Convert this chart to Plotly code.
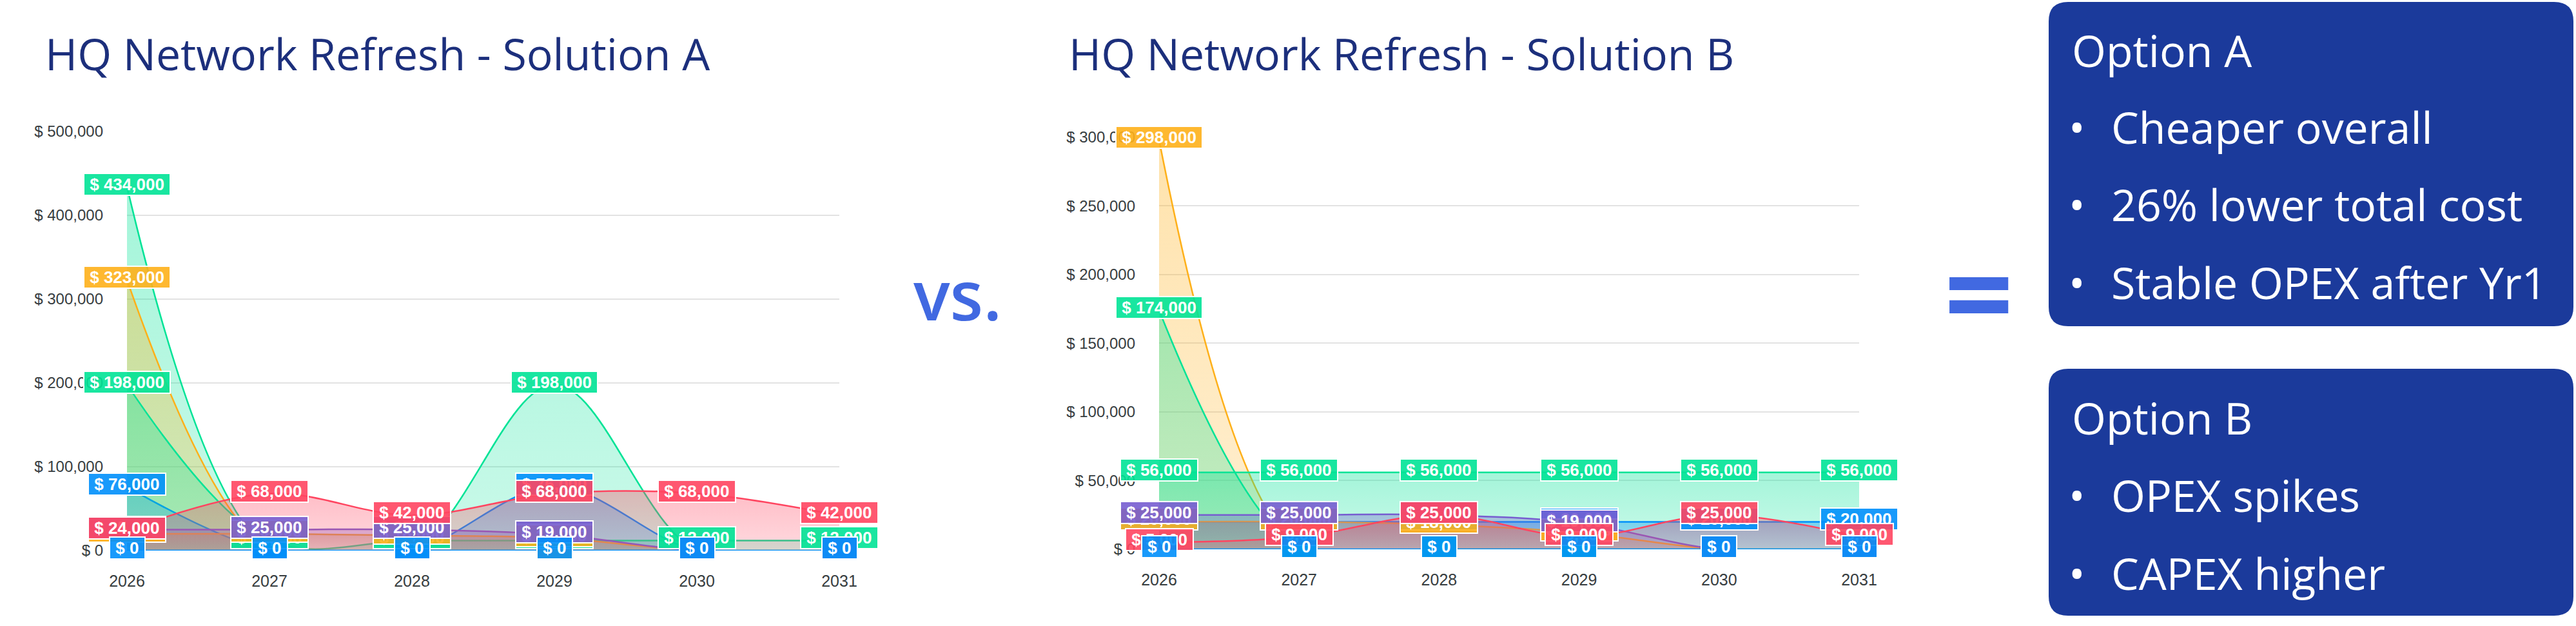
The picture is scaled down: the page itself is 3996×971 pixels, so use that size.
import plotly.graph_objects as go

# ---------------- data ----------------
years = [2026, 2027, 2028, 2029, 2030, 2031]
year_labels = ["2026", "2027", "2028", "2029", "2030", "2031"]

# Solution A
a_hardware = [434000, 0, 0, 198000, 0, 0]              # green
a_capex_other = [323000, 0, 0, 0, 0, 0]                # orange
a_install = [76000, 0, 0, 76000, 0, 0]                 # blue
a_licences = [198000, 12000, 12000, 12000, 12000, 12000]  # green
a_support = [20000, 20000, 18000, 15000, 0, 0]         # orange
a_training = [25000, 25000, 25000, 19000, 0, 0]        # purple
a_opex = [24000, 68000, 42000, 68000, 68000, 42000]    # red
a_other = [0, 0, 0, 0, 0, 0]                           # blue

# Solution B
b_capex_other = [298000, 0, 0, 0, 0, 0]                # orange
b_hardware = [174000, 0, 0, 0, 0, 0]                   # green
b_licences = [56000, 56000, 56000, 56000, 56000, 56000]  # green
b_install = [20000, 20000, 20000, 20000, 20000, 20000]  # blue
b_support = [20000, 20000, 18000, 12000, 0, 0]         # orange
b_training = [25000, 25000, 25000, 19000, 0, 0]        # purple
b_opex = [5000, 9000, 25000, 9000, 25000, 9000]        # red
b_other = [0, 0, 0, 0, 0, 0]                           # blue

titles = ["HQ Network Refresh - Solution A", "HQ Network Refresh - Solution B"]
box_a_title = "Option A"
box_a_points = ["Cheaper overall", "26% lower total cost", "Stable OPEX after Yr1"]
box_b_title = "Option B"
box_b_points = ["OPEX spikes", "CAPEX higher"]

BLUE, GREEN, ORANGE, RED, PURPLE = "#008FFB", "#00E396", "#FEB019", "#FF4560", "#775DD0"

W, H = 3996, 971


def px(x):
    return x / W


def py(y):
    return 1 - y / H


def rgba(hex_color, a):
    h = hex_color.lstrip("#")
    r, g, b = int(h[0:2], 16), int(h[2:4], 16), int(h[4:6], 16)
    return f"rgba({r},{g},{b},{a})"


fig = go.Figure()
annotations = []

series_a = [
    (a_hardware, GREEN), (a_capex_other, ORANGE), (a_install, BLUE),
    (a_licences, GREEN), (a_support, ORANGE), (a_training, PURPLE),
    (a_opex, RED), (a_other, BLUE),
]
series_b = [
    (b_capex_other, ORANGE), (b_hardware, GREEN), (b_licences, GREEN),
    (b_install, BLUE), (b_support, ORANGE), (b_training, PURPLE),
    (b_opex, RED), (b_other, BLUE),
]

NB = "\u00a0"


def add_chart(series, xa, ya):
    for vals, col in series:
        fig.add_trace(go.Scatter(
            x=years, y=vals, xaxis=xa, yaxis=ya, mode="lines",
            line=dict(color=col, width=2.5, shape="spline", smoothing=1.0),
            fill="tozeroy",
            fillgradient=dict(type="vertical",
                              colorscale=[[0, rgba(col, 0.2)], [1, rgba(col, 0.36)]]),
            hoverinfo="skip",
        ))
    for vals, col in series:
        for yr, v in zip(years, vals):
            annotations.append(dict(
                x=yr, y=v, xref=xa, yref=ya, text=f"{NB}$ {v:,}{NB}",
                showarrow=False, xanchor="center", yanchor="middle", yshift=4,
                font=dict(family="Liberation Sans, Arial", size=26, color="white", weight="bold"),
                bgcolor=rgba(col, 0.9), bordercolor="white", borderwidth=2, borderpad=1,
            ))


add_chart(series_a, "x", "y")
add_chart(series_b, "x2", "y2")

axis_common_x = dict(
    tickvals=years, ticktext=year_labels, showgrid=False, zeroline=False,
    showline=False, ticks="", tickfont=dict(family="Liberation Sans, Arial", size=25, color="#373d3f"),
    ticklabelstandoff=30, fixedrange=True, automargin=False,
)
axis_common_y = dict(
    tickprefix="$ ", tickformat=",d", showgrid=True, gridcolor="#e3e3e3", gridwidth=2,
    zeroline=False, showline=False, ticks="",
    tickfont=dict(family="Liberation Sans, Arial", size=24, color="#373d3f"),
    ticklabelstandoff=36, fixedrange=True, automargin=False,
)

fig.update_layout(
    width=W, height=H, margin=dict(l=0, r=0, t=0, b=0, pad=0, autoexpand=False),
    paper_bgcolor="white", plot_bgcolor="white", showlegend=False,
    xaxis=dict(domain=[px(197), px(1302)], range=[2026, 2031], anchor="y", **axis_common_x),
    yaxis=dict(domain=[py(854), py(204)], range=[0, 500000], dtick=100000, anchor="x", **axis_common_y),
    xaxis2=dict(domain=[px(1798), px(2884)], range=[2026, 2031], anchor="y2", **axis_common_x),
    yaxis2=dict(domain=[py(852), py(212.7)], range=[0, 300000], dtick=50000, anchor="x2", **axis_common_y),
)

TITLE_FONT = "Open Sans, Noto Sans, sans-serif"
# chart titles
for tx, t in zip([68, 1656], titles):
    annotations.append(dict(x=px(tx), y=py(82), xref="paper", yref="paper", text=t,
                            showarrow=False, xanchor="left", yanchor="middle",
                            font=dict(family=TITLE_FONT, size=68, color="#1c2f7c")))
# vs.
annotations.append(dict(x=px(1485), y=py(456), xref="paper", yref="paper", text="vs.",
                        showarrow=False, xanchor="center", yanchor="middle",
                        font=dict(family=TITLE_FONT, size=106, color="#4169E1", weight=600)))
# equals sign
annotations.append(dict(x=px(3070), y=py(452), xref="paper", yref="paper", text="=",
                        showarrow=False, xanchor="center", yanchor="middle",
                        font=dict(family=TITLE_FONT, size=188, color="#4169E1", weight="bold")))

BOX = "#1b3a9b"


def rounded_path(x0, y0, x1, y1, r):
    def P(x, y):
        return f"{px(x)},{py(y)}"
    return (f"M {P(x0 + r, y0)} L {P(x1 - r, y0)} Q {P(x1, y0)} {P(x1, y0 + r)} "
            f"L {P(x1, y1 - r)} Q {P(x1, y1)} {P(x1 - r, y1)} L {P(x0 + r, y1)} "
            f"Q {P(x0, y1)} {P(x0, y1 - r)} L {P(x0, y0 + r)} Q {P(x0, y0)} {P(x0 + r, y0)} Z")


shapes = [
    dict(type="path", xref="paper", yref="paper", path=rounded_path(3178, 3, 3992, 506, 30),
         fillcolor=BOX, line=dict(width=0), layer="below"),
    dict(type="path", xref="paper", yref="paper", path=rounded_path(3178, 572, 3992, 955, 30),
         fillcolor=BOX, line=dict(width=0), layer="below"),
]

FS = 68
BOX_FONT = dict(family=TITLE_FONT, size=FS, color="white")
OFF = 0.388 * FS


def box_text(title, points, title_base, point_bases):
    annotations.append(dict(x=px(3212), y=py(title_base - OFF), xref="paper", yref="paper",
                            text=title, showarrow=False, xanchor="left", yanchor="middle",
                            font=BOX_FONT))
    for t, b in zip(points, point_bases):
        annotations.append(dict(x=px(3222), y=py(b - OFF), xref="paper", yref="paper",
                                text="•", showarrow=False, xanchor="center", yanchor="middle",
                                font=BOX_FONT))
        annotations.append(dict(x=px(3273), y=py(b - OFF), xref="paper", yref="paper",
                                text=t, showarrow=False, xanchor="left", yanchor="middle",
                                font=BOX_FONT))


box_text(box_a_title, box_a_points, 104, [223, 343, 464])
box_text(box_b_title, box_b_points, 674, [794, 915])

fig.update_layout(annotations=annotations, shapes=shapes)
fig.write_html("out.html", config={"displayModeBar": False},
               post_script="document.body.style.margin='0px';document.body.style.overflow='hidden';")
